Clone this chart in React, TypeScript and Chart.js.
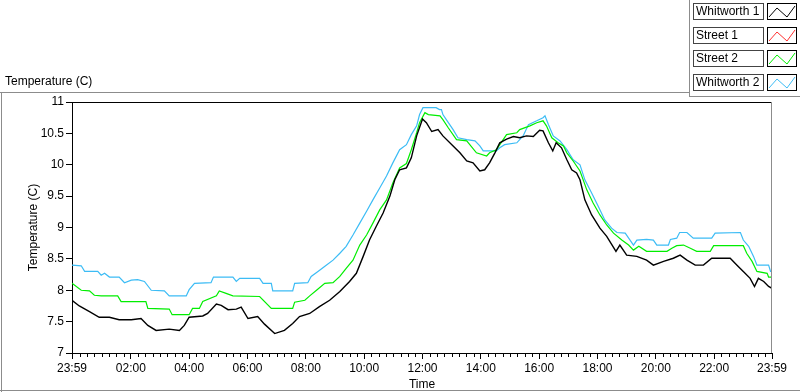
import { useEffect, useRef } from "react";
import { Chart, registerables } from "chart.js";
Chart.register(...registerables);

// x values are minutes after 23:59
const xTickMinutes = [0, 121, 241, 361, 481, 601, 721, 841, 961, 1081, 1201, 1321, 1440];
const xTickLabels = ["23:59", "02:00", "04:00", "06:00", "08:00", "10:00", "12:00", "14:00", "16:00", "18:00", "20:00", "22:00", "23:59"];
const yTickValues = [7, 7.5, 8, 8.5, 9, 9.5, 10, 10.5, 11];
const yTickLabels = ["7", "7.5", "8", "8.5", "9", "9.5", "10", "10.5", "11"];
const seriesNames = ["Whitworth 1", "Street 1", "Street 2", "Whitworth 2"];

const w1Minutes = [0, 15, 36, 56, 77, 97, 122, 142, 156, 173, 200, 221, 231, 241, 269, 279, 297, 307, 321, 338, 348, 362, 382, 396, 417, 437, 454, 468, 489, 509, 530, 551, 571, 585, 599, 612, 626, 640, 654, 664, 674, 688, 698, 709, 721, 729, 740, 753, 763, 784, 798, 812, 825, 839, 849, 859, 870, 880, 894, 908, 921, 935, 949, 962, 969, 980, 989, 996, 1007, 1018, 1028, 1038, 1045, 1055, 1069, 1086, 1100, 1119, 1127, 1141, 1162, 1182, 1196, 1217, 1237, 1251, 1265, 1282, 1299, 1316, 1333, 1354, 1368, 1381, 1395, 1404, 1412, 1423, 1433, 1440];
const w1Values = [7.84, 7.75, 7.66, 7.57, 7.57, 7.53, 7.53, 7.55, 7.44, 7.36, 7.38, 7.36, 7.44, 7.57, 7.59, 7.63, 7.78, 7.76, 7.69, 7.7, 7.73, 7.55, 7.58, 7.46, 7.31, 7.36, 7.47, 7.58, 7.63, 7.74, 7.84, 7.98, 8.14, 8.27, 8.54, 8.8, 9.02, 9.23, 9.5, 9.76, 9.92, 9.95, 10.11, 10.46, 10.73, 10.67, 10.53, 10.56, 10.46, 10.3, 10.19, 10.06, 10.03, 9.9, 9.92, 10.03, 10.19, 10.35, 10.41, 10.45, 10.43, 10.46, 10.45, 10.55, 10.54, 10.35, 10.22, 10.35, 10.27, 10.08, 9.92, 9.87, 9.76, 9.44, 9.2, 8.99, 8.86, 8.62, 8.72, 8.56, 8.54, 8.48, 8.4, 8.46, 8.51, 8.56, 8.48, 8.4, 8.4, 8.51, 8.51, 8.51, 8.4, 8.3, 8.19, 8.06, 8.19, 8.14, 8.06, 8.03];

const s1Minutes: number[] = [];
const s1Values: number[] = [];

const s2Minutes = [0, 19, 36, 46, 60, 94, 101, 152, 156, 200, 206, 241, 248, 262, 269, 297, 303, 317, 331, 386, 410, 454, 458, 479, 489, 503, 520, 537, 551, 564, 578, 592, 606, 619, 633, 647, 660, 674, 688, 698, 709, 715, 726, 733, 757, 763, 774, 791, 812, 832, 853, 859, 873, 894, 915, 921, 942, 956, 969, 976, 987, 1000, 1011, 1018, 1031, 1045, 1059, 1072, 1086, 1100, 1114, 1131, 1145, 1155, 1166, 1182, 1224, 1234, 1244, 1258, 1272, 1285, 1313, 1320, 1381, 1388, 1399, 1409, 1430, 1433, 1440];
const s2Values = [8.11, 8.0, 7.99, 7.92, 7.91, 7.91, 7.82, 7.82, 7.71, 7.7, 7.61, 7.61, 7.71, 7.71, 7.82, 7.91, 7.99, 7.95, 7.91, 7.9, 7.71, 7.71, 7.81, 7.84, 7.91, 8.0, 8.11, 8.12, 8.22, 8.35, 8.48, 8.72, 8.88, 9.07, 9.28, 9.44, 9.71, 9.95, 10.02, 10.24, 10.51, 10.67, 10.83, 10.8, 10.78, 10.72, 10.59, 10.4, 10.38, 10.19, 10.14, 10.19, 10.24, 10.48, 10.51, 10.56, 10.62, 10.67, 10.7, 10.62, 10.43, 10.35, 10.3, 10.19, 10.06, 9.9, 9.6, 9.39, 9.2, 9.04, 8.91, 8.8, 8.72, 8.64, 8.7, 8.62, 8.62, 8.67, 8.71, 8.72, 8.67, 8.62, 8.62, 8.71, 8.71, 8.59, 8.46, 8.3, 8.27, 8.21, 8.21];

const w2Minutes = [0, 19, 26, 53, 60, 67, 77, 97, 108, 122, 135, 149, 163, 190, 200, 235, 241, 252, 286, 291, 331, 338, 345, 386, 393, 410, 413, 454, 458, 485, 492, 506, 523, 537, 551, 564, 578, 592, 606, 619, 633, 647, 660, 674, 688, 698, 709, 715, 722, 728, 749, 756, 760, 763, 770, 784, 794, 812, 829, 839, 846, 873, 880, 890, 915, 928, 939, 956, 969, 973, 980, 990, 1004, 1018, 1031, 1045, 1055, 1069, 1083, 1096, 1110, 1121, 1138, 1148, 1155, 1162, 1182, 1196, 1203, 1227, 1231, 1244, 1250, 1265, 1278, 1316, 1323, 1375, 1381, 1392, 1402, 1409, 1433, 1437, 1440];
const w2Values = [8.4, 8.39, 8.3, 8.3, 8.24, 8.27, 8.21, 8.21, 8.12, 8.16, 8.17, 8.14, 8.0, 7.99, 7.91, 7.91, 8.01, 8.11, 8.12, 8.21, 8.21, 8.14, 8.19, 8.19, 8.11, 8.11, 7.99, 7.99, 8.11, 8.12, 8.22, 8.3, 8.4, 8.48, 8.59, 8.7, 8.88, 9.07, 9.26, 9.44, 9.63, 9.82, 10.03, 10.24, 10.32, 10.48, 10.62, 10.8, 10.91, 10.91, 10.91, 10.88, 10.88, 10.8, 10.72, 10.56, 10.43, 10.4, 10.38, 10.3, 10.22, 10.22, 10.27, 10.32, 10.35, 10.46, 10.64, 10.7, 10.75, 10.78, 10.64, 10.46, 10.38, 10.24, 10.08, 10.0, 9.76, 9.55, 9.33, 9.12, 8.99, 8.92, 8.91, 8.8, 8.72, 8.8, 8.81, 8.8, 8.72, 8.72, 8.81, 8.83, 8.92, 8.92, 8.83, 8.83, 8.91, 8.92, 8.8, 8.7, 8.54, 8.4, 8.4, 8.3, 8.3];

const seriesColors = ["#000000", "#ff3030", "#00ee00", "#3cbcf5"];

const FONT = "'Liberation Sans', Arial, sans-serif";

function pts(xs: number[], ys: number[]) {
  return xs.map((x, i) => ({ x, y: ys[i] }));
}

const minorMinutes: number[] = [];
for (let m = 16; m < 1440; m += 15) {
  if (!xTickMinutes.some((t) => Math.abs(t - m) < 3)) minorMinutes.push(m);
}

const framePlugin = {
  id: "lvframe",
  afterDraw(chart: any) {
    const { ctx, chartArea: a, scales } = chart;
    ctx.save();
    ctx.lineWidth = 1;
    ctx.strokeStyle = "#000";
    const top = Math.round(a.top) + 0.5;
    ctx.beginPath();
    ctx.moveTo(a.left, top);
    ctx.lineTo(a.right, top);
    ctx.stroke();
    ctx.strokeStyle = "#8c8c8c";
    const r = Math.round(a.right) - 0.5;
    ctx.beginPath();
    ctx.moveTo(r, a.top);
    ctx.lineTo(r, a.bottom);
    ctx.stroke();
    ctx.strokeStyle = "#000";
    const b = Math.round(a.bottom);
    for (const m of minorMinutes) {
      const x = Math.round(scales.x.getPixelForValue(m)) + 0.5;
      ctx.beginPath();
      ctx.moveTo(x, b);
      ctx.lineTo(x, b + 4);
      ctx.stroke();
    }
    ctx.restore();
  },
};

function Swatch({ color }: { color: string }) {
  return (
    <svg width="28" height="15" style={{ display: "block" }}>
      <polyline points="1,13 9,4 19,13 27,2" fill="none" stroke={color} strokeWidth="1" />
    </svg>
  );
}

export default function App() {
  const ref = useRef<HTMLCanvasElement | null>(null);
  useEffect(() => {
    if (!ref.current) return;
    const chart = new Chart(ref.current, {
      type: "line",
      data: {
        datasets: [
          { label: seriesNames[0], data: pts(w1Minutes, w1Values), borderColor: seriesColors[0], borderWidth: 1.4, pointRadius: 0, tension: 0, order: 1 },
          { label: seriesNames[1], data: pts(s1Minutes, s1Values), borderColor: seriesColors[1], borderWidth: 1.2, pointRadius: 0, tension: 0, order: 2 },
          { label: seriesNames[2], data: pts(s2Minutes, s2Values), borderColor: seriesColors[2], borderWidth: 1.2, pointRadius: 0, tension: 0, order: 3 },
          { label: seriesNames[3], data: pts(w2Minutes, w2Values), borderColor: seriesColors[3], borderWidth: 1.2, pointRadius: 0, tension: 0, order: 4 },
        ],
      },
      options: {
        animation: false,
        responsive: false,
        maintainAspectRatio: false,
        layout: { padding: { top: 102, right: 28, left: 0, bottom: 0 } },
        plugins: { legend: { display: false }, tooltip: { enabled: false } },
        scales: {
          x: {
            type: "linear",
            min: 0,
            max: 1440,
            afterBuildTicks: (s: any) => {
              s.ticks = xTickMinutes.map((v) => ({ value: v }));
            },
            afterFit: (s: any) => {
              s.height = 39;
            },
            ticks: {
              autoSkip: false,
              maxRotation: 0,
              padding: 2,
              color: "#000",
              font: { family: FONT, size: 12 },
              callback: (_v: any, i: number) => xTickLabels[i],
            },
            grid: { drawOnChartArea: false, drawTicks: true, tickLength: 6, tickColor: "#000" },
            border: { display: true, color: "#000", width: 1 },
            title: { display: true, text: "Time", color: "#000", font: { family: FONT, size: 12 }, padding: { top: 0, bottom: 0 } },
          },
          y: {
            type: "linear",
            min: 7,
            max: 11,
            afterBuildTicks: (s: any) => {
              s.ticks = yTickValues.map((v) => ({ value: v }));
            },
            afterFit: (s: any) => {
              s.width = 72;
            },
            ticks: {
              padding: 2,
              color: "#000",
              font: { family: FONT, size: 12 },
              callback: (_v: any, i: number) => yTickLabels[i],
            },
            grid: { drawOnChartArea: false, drawTicks: true, tickLength: 6, tickColor: "#000" },
            border: { display: true, color: "#000", width: 1 },
            title: { display: true, text: "Temperature (C)", color: "#000", font: { family: FONT, size: 12 }, padding: { top: 26, bottom: 0 } },
          },
        },
      },
      plugins: [framePlugin],
    } as any);
    return () => chart.destroy();
  }, []);

  const rowTops = [3, 27, 50, 74];
  return (
    <div style={{ position: "absolute", left: 0, top: 0, width: 800, height: 392, background: "#fff", overflow: "hidden", fontFamily: FONT }}>
      <canvas ref={ref} width={800} height={392} style={{ position: "absolute", left: 0, top: 0 }} />
      <div style={{ position: "absolute", left: 5, top: 74, fontSize: 12, color: "#000", whiteSpace: "nowrap" }}>Temperature (C)</div>
      <div style={{ position: "absolute", left: 0, top: 92, width: 689, height: 1, background: "#8c8c8c" }} />
      <div style={{ position: "absolute", left: 1, top: 92, width: 1, height: 300, background: "#8c8c8c" }} />
      <div style={{ position: "absolute", left: 0, top: 390, width: 800, height: 1, background: "#8c8c8c" }} />
      <div style={{ position: "absolute", left: 689, top: 0, width: 1, height: 97, background: "#8c8c8c" }} />
      <div style={{ position: "absolute", left: 689, top: 96, width: 111, height: 1, background: "#8c8c8c" }} />
      {seriesNames.map((n, i) => (
        <div key={n}>
          <div
            style={{
              position: "absolute",
              left: 693,
              top: rowTops[i],
              width: 71,
              height: 17,
              boxSizing: "border-box",
              border: "1px solid #444",
              fontSize: 12,
              lineHeight: "15px",
              paddingLeft: 2,
              color: "#000",
              whiteSpace: "nowrap",
              overflow: "hidden",
            }}
          >
            {n}
          </div>
          <div
            style={{
              position: "absolute",
              left: 767,
              top: rowTops[i],
              width: 30,
              height: 17,
              boxSizing: "border-box",
              border: "1px solid #000",
            }}
          >
            <Swatch color={seriesColors[i]} />
          </div>
        </div>
      ))}
    </div>
  );
}
